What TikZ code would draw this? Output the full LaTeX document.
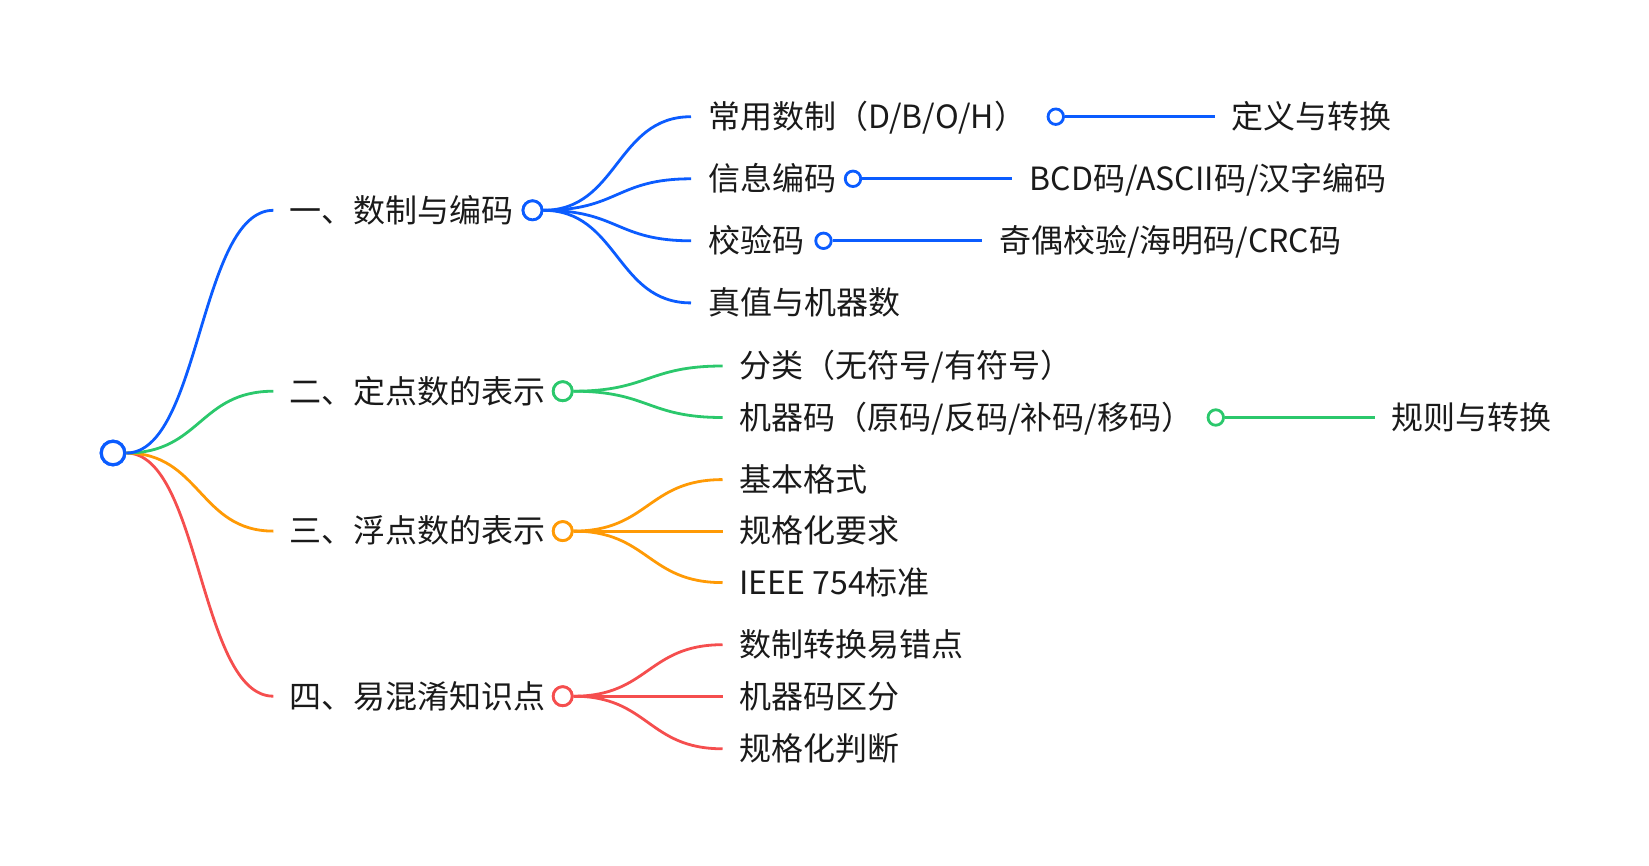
\documentclass[tikz,border=0pt]{standalone}
\usepackage{fontspec}
\newfontfamily\cjk{Noto Sans CJK SC}
\definecolor{bl}{HTML}{0B5CFF}
\definecolor{gr}{HTML}{2BC86C}
\definecolor{og}{HTML}{FF9A05}
\definecolor{rd}{HTML}{F54E4E}
\definecolor{tx}{HTML}{1A1A1A}
\tikzset{
  lbl/.style={anchor=west, inner sep=0pt, yshift=-8pt, text=tx, font=\cjk\fontsize{32}{38}\selectfont, text height=0.88em, text depth=0.12em},
  dot/.style={circle, draw, fill=white, line width=2.8pt, inner sep=0pt, minimum size=#1},
  dot/.default=19pt,
  link/.style={line width=2.8pt},
}
\begin{document}
\begin{tikzpicture}[x=1pt,y=-1pt]
\useasboundingbox (0,0) rectangle (1649,865);
% root
\node[dot=23.5pt, line width=3.2pt, draw=bl] (root) at (113,453) {};
% level 1 end coordinates
\coordinate (e1) at (273.4,210.3);
\coordinate (e2) at (273.4,391.2);
\coordinate (e3) at (273.4,531.1);
\coordinate (e4) at (273.4,696.2);
\draw[link, rd] (root.east) .. controls +(74,0) and +(-74,0) .. (e4);
\draw[link, og] (root.east) .. controls +(74,0) and +(-74,0) .. (e3);
\draw[link, gr] (root.east) .. controls +(74,0) and +(-74,0) .. (e2);
\draw[link, bl] (root.east) .. controls +(74,0) and +(-74,0) .. (e1);
\node[dot=23.5pt, line width=3.2pt, draw=bl] at (root) {};
% level 1 labels
\node[lbl] (t1) at (289.5,210.3) {一、数制与编码};
\node[lbl] (t2) at (289.5,391.2) {二、定点数的表示};
\node[lbl] (t3) at (289.5,531.1) {三、浮点数的表示};
\node[lbl] (t4) at (289.5,696.2) {四、易混淆知识点};
% level 1 circles
\node[dot, draw=bl] (d1) at (532.5,210.3) {};
\node[dot, draw=gr] (d2) at (562.7,391.2) {};
\node[dot, draw=og] (d3) at (562.7,531.1) {};
\node[dot, draw=rd] (d4) at (562.7,696.2) {};
% branch 1 children
\coordinate (a1) at (691,116.7);
\coordinate (a2) at (691,178.8);
\coordinate (a3) at (691,240.8);
\coordinate (a4) at (691,302.9);
\foreach \e in {a1,a2,a3,a4}
  \draw[link, bl] (d1.east) .. controls +(75,0) and +(-75,0) .. (\e);
\node[dot, draw=bl] at (d1) {};
\node[lbl] (u1) at (707.8,116.7) {常用数制（D/B/O/H）};
\node[lbl] (u2) at (707.8,178.8) {信息编码};
\node[lbl] (u3) at (707.8,240.8) {校验码};
\node[lbl] (u4) at (707.8,302.9) {真值与机器数};
% grandchildren of branch 1
\node[dot=15.5pt, draw=bl] (g1) at (1055.8,116.7) {};
\coordinate (h1) at (1214.7,116.7);
\draw[link, bl] (g1.east) -- (h1);
\node[lbl] (v1) at (1231.5,116.7) {定义与转换};
\node[dot=15.5pt, draw=bl] (g2) at (853,178.8) {};
\coordinate (h2) at (1011.7,178.8);
\draw[link, bl] (g2.east) -- (h2);
\node[lbl] (v2) at (1029.6,178.8) {BCD码/ASCII码/汉字编码};
\node[dot=15.5pt, draw=bl] (g3) at (823.5,240.8) {};
\coordinate (h3) at (982.3,240.8);
\draw[link, bl] (g3.east) -- (h3);
\node[lbl] (v3) at (999.1,240.8) {奇偶校验/海明码/CRC码};
% branch 2 children
\coordinate (b1) at (722.5,366);
\coordinate (b2) at (722.5,417.5);
\foreach \e in {b1,b2}
  \draw[link, gr] (d2.east) .. controls +(75,0) and +(-75,0) .. (\e);
\node[dot, draw=gr] at (d2) {};
\node[lbl] (w1) at (739.3,366) {分类（无符号/有符号）};
\node[lbl] (w2) at (739.3,417.5) {机器码（原码/反码/补码/移码）};
\node[dot=15.5pt, draw=gr] (g4) at (1215.8,417.5) {};
\coordinate (h4) at (1374.6,417.5);
\draw[link, gr] (g4.east) -- (h4);
\node[lbl] (v4) at (1391.4,417.5) {规则与转换};
% branch 3 children
\coordinate (f1) at (722.5,479.6);
\coordinate (f2) at (722.5,531.1);
\coordinate (f3) at (722.5,582.6);
\foreach \e in {f1,f2,f3}
  \draw[link, og] (d3.east) .. controls +(75,0) and +(-75,0) .. (\e);
\node[dot, draw=og] at (d3) {};
\node[lbl] (x1) at (739.3,479.6) {基本格式};
\node[lbl] (x2) at (739.3,531.1) {规格化要求};
\node[lbl] (x3) at (739.3,582.6) {IEEE 754标准};
% branch 4 children
\coordinate (k1) at (722.5,644.7);
\coordinate (k2) at (722.5,696.2);
\coordinate (k3) at (722.5,748.8);
\foreach \e in {k1,k2,k3}
  \draw[link, rd] (d4.east) .. controls +(75,0) and +(-75,0) .. (\e);
\node[dot, draw=rd] at (d4) {};
\node[lbl] (y1) at (739.3,644.7) {数制转换易错点};
\node[lbl] (y2) at (739.3,696.2) {机器码区分};
\node[lbl] (y3) at (739.3,748.8) {规格化判断};
\end{tikzpicture}
\end{document}
